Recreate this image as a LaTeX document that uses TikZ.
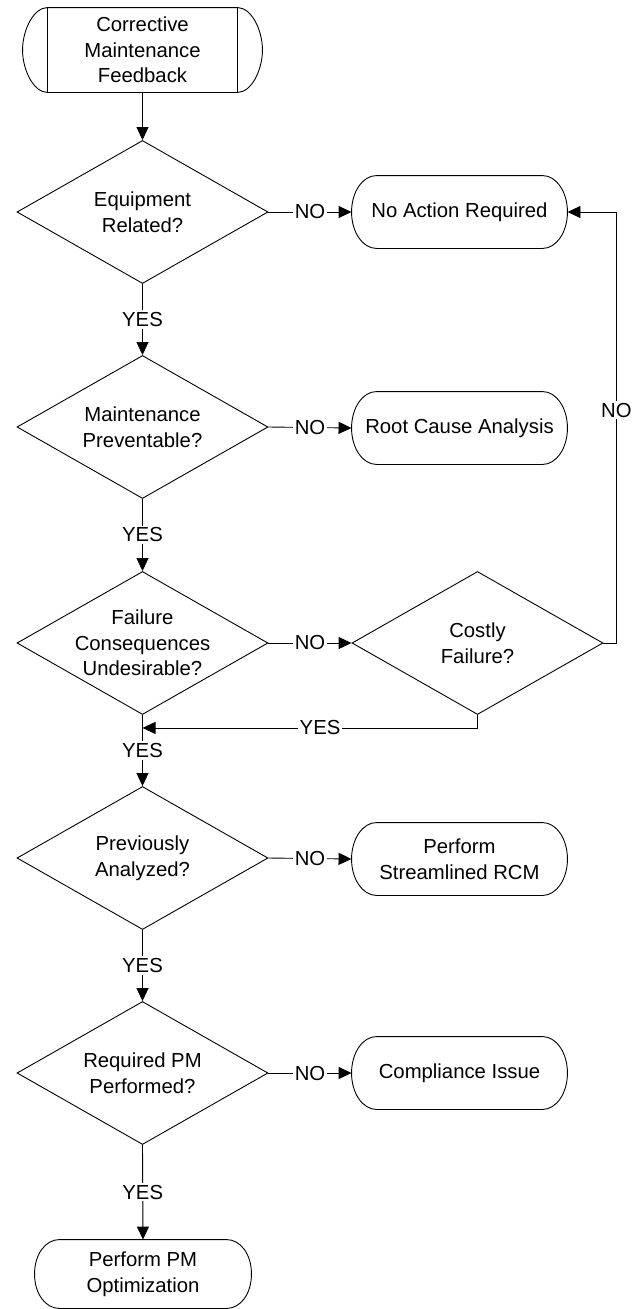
\documentclass[tikz,border=0pt]{standalone}
\usepackage{fontspec}
\setmainfont{Liberation Sans}
\usepackage{tikz}
\usetikzlibrary{shapes.geometric,arrows.meta}

\tikzset{
  term/.style={minimum width=215pt, minimum height=72pt, align=center, inner sep=0pt,
    append after command={\pgfextra{\let\tn\tikzlastnode
      \draw ([xshift=25pt]\tn.north west) -- ([xshift=-25pt]\tn.north east)
        .. controls +(14pt,0) and +(0,20pt) .. (\tn.east)
        .. controls +(0,-20pt) and +(14pt,0) .. ([xshift=-25pt]\tn.south east)
        -- ([xshift=25pt]\tn.south west)
        .. controls +(-14pt,0) and +(0,-20pt) .. (\tn.west)
        .. controls +(0,20pt) and +(-14pt,0) .. ([xshift=25pt]\tn.north west);}}},
  feedback/.style={term, minimum width=239pt, minimum height=84pt,
    append after command={\pgfextra{\let\tn\tikzlastnode
      \draw ([xshift=25pt]\tn.north west) -- ([xshift=25pt]\tn.south west);
      \draw ([xshift=-25pt]\tn.north east) -- ([xshift=-25pt]\tn.south east);}}},
  decision/.style={diamond, draw, aspect=1.755, minimum width=251pt, minimum height=143pt,
    inner sep=-4pt, align=center},
  lbl/.style={fill=white, inner sep=2pt},
  arr/.style={-{Triangle[length=13pt,width=12pt]}}
}

\begin{document}
\begin{tikzpicture}[x=1pt, y=1pt, line width=0.9pt, font=\fontsize{20.3pt}{25.5pt}\selectfont]
\useasboundingbox (0,0) rectangle (641,-1309);
\node[feedback] (cmf) at (142.5,-50) {Corrective\\Maintenance\\Feedback};
\node[decision] (equip) at (142.5,-212) {Equipment\\Related?};
\node[term] (noact) at (459.5,-212) {No Action Required};
\node[decision] (prev) at (142.5,-427) {Maintenance\\Preventable?};
\node[term] (rca) at (459.5,-428) {Root Cause Analysis};
\node[decision] (cons) at (142.5,-643) {Failure\\Consequences\\Undesirable?};
\node[decision] (costly) at (477.5,-643) {Costly\\Failure?};
\node[decision] (anlz) at (142.5,-858) {Previously\\Analyzed?};
\node[term] (srcm) at (459.5,-859) {Perform\\Streamlined RCM};
\node[decision] (reqpm) at (142.5,-1073) {Required PM\\Performed?};
\node[term] (compl) at (459.5,-1073) {Compliance Issue};
\node[term, minimum width=216pt, minimum height=68pt] (pmo) at (143,-1274) {Perform PM\\Optimization};
\coordinate (merge) at ([yshift=-13pt]cons.south);
\draw[arr] (cmf.south) -- (equip.north);
\draw[arr] (equip.east) -- node[lbl]{NO} (noact.west);
\draw[arr] (equip.south) -- node[lbl]{YES} (prev.north);
\draw[arr] (prev.east) -- node[lbl]{NO} (rca.west);
\draw[arr] (prev.south) -- node[lbl]{YES} (cons.north);
\draw[arr] (cons.east) -- node[lbl]{NO} (costly.west);
\draw[arr] (costly.east) -- ++(13pt,0) |- node[lbl,pos=0.27]{NO} (noact.east);
\draw[arr] (costly.south) |- node[lbl,pos=0.735]{YES} (merge);
\draw[arr] (cons.south) -- node[lbl]{YES} (anlz.north);
\draw[arr] (anlz.east) -- node[lbl]{NO} (srcm.west);
\draw[arr] (anlz.south) -- node[lbl]{YES} (reqpm.north);
\draw[arr] (reqpm.east) -- node[lbl]{NO} (compl.west);
\draw[arr] (reqpm.south) -- node[lbl]{YES} (pmo.north);
\end{tikzpicture}
\end{document}
